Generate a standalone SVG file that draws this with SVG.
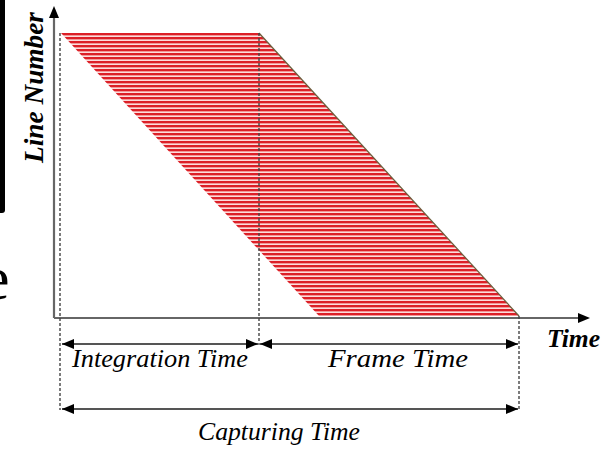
<svg xmlns="http://www.w3.org/2000/svg" width="605" height="449" viewBox="0 0 605 449">
<style>
.axis{stroke:#666;stroke-width:2.2;fill:none}
.dim{stroke:#555;stroke-width:2;fill:none}
.dash{stroke:#444;stroke-width:1.4;stroke-dasharray:3 2;fill:none}
.lbl{font-family:'Liberation Serif','Times New Roman',Times,serif;font-style:italic;font-size:25px;fill:#000}
.bold{font-weight:bold}
</style>
<defs>
<pattern id="stripes" patternUnits="userSpaceOnUse" x="0" y="33" width="10" height="4">
<rect x="0" y="0" width="10" height="4" fill="#fbdcdc"/>
<rect x="0" y="0" width="10" height="2" fill="#dc1f27"/>
<rect x="0" y="2" width="10" height="0.7" fill="#ef7a7a"/>
</pattern>
<marker id="ah" viewBox="0 0 12 10" refX="12" refY="5" markerWidth="12" markerHeight="10" markerUnits="userSpaceOnUse" orient="auto-start-reverse">
<path d="M0,0 L12,5 L0,10 Z" fill="#000"/>
</marker>
</defs>
<rect x="-4" y="-4" width="9" height="217" rx="3" fill="#000"/>
<text x="-18" y="299" font-family="Liberation Serif, serif" font-size="62" fill="#000">e</text>
<g id="region">
<polygon points="61,33 259,33 519,316 319,316" fill="url(#stripes)"/>
<line x1="259" y1="33" x2="519" y2="316" stroke="#6b5d3c" stroke-width="1.2"/>
</g>
<g id="axes">
<line class="axis" x1="54" y1="318" x2="54" y2="16"/>
<path d="M54,6 L59,18 L49,18 Z" fill="#000"/>
<line class="axis" x1="54" y1="318" x2="580" y2="318"/>
<path d="M590,318 L578,313 L578,323 Z" fill="#000"/>
</g>
<g id="connectors">
<line class="dash" x1="60" y1="33" x2="60" y2="410"/>
<line class="dash" x1="259" y1="33" x2="259" y2="345"/>
<line class="dash" x1="519" y1="316" x2="519" y2="410"/>
<line class="dim" x1="62" y1="344" x2="258" y2="344" marker-start="url(#ah)" marker-end="url(#ah)"/>
<line class="dim" x1="260" y1="344" x2="518" y2="344" marker-start="url(#ah)" marker-end="url(#ah)"/>
<line class="dim" x1="62" y1="409" x2="518" y2="409" marker-start="url(#ah)" marker-end="url(#ah)"/>
</g>
<g id="labels">
<text class="lbl bold" transform="translate(43,163) rotate(-90)" textLength="151" lengthAdjust="spacingAndGlyphs" style="font-size:27px">Line Number</text>
<text class="lbl bold" x="547" y="347" textLength="53" lengthAdjust="spacingAndGlyphs" style="font-size:26px">Time</text>
<text class="lbl" x="72" y="367" textLength="176" lengthAdjust="spacingAndGlyphs">Integration Time</text>
<text class="lbl" x="328" y="367" textLength="140" lengthAdjust="spacingAndGlyphs">Frame Time</text>
<text class="lbl" x="198" y="440" textLength="162" lengthAdjust="spacingAndGlyphs">Capturing Time</text>
</g>
</svg>
